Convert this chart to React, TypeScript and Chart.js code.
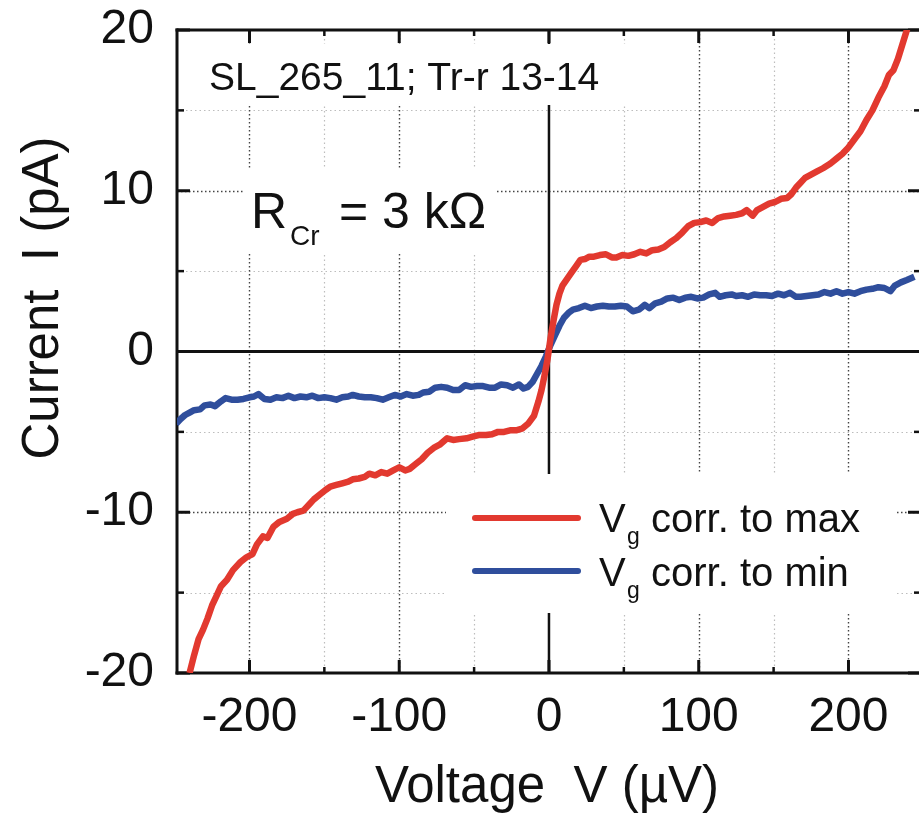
import React, { useEffect, useRef } from 'react';
import { Chart, registerables } from 'chart.js';

Chart.register(...registerables);

const FONT = "'Liberation Sans', Arial, Helvetica, sans-serif";

const xTickLabels = [-200, -100, 0, 100, 200];
const yTickLabels = [-20, -10, 0, 10, 20];
const xMinorTicks = [-150, -50, 50, 150];
const yMinorTicks = [-15, -5, 5, 15];

const xTitle = 'Voltage  V (µV)';
const yTitle = 'Current  I (pA)';
const sampleLabel = 'SL_265_11; Tr-r 13-14';
const seriesLabels = ['corr. to max', 'corr. to min'];

const redV = [-240, -237, -234, -231, -228, -225, -222, -219, -215, -211, -206, -202, -198, -195, -191, -188, -184, -180, -175, -171, -168, -164, -160, -157, -153, -149, -146, -142, -138, -134, -131, -127, -123, -120, -116, -112, -108, -104, -100, -96, -93, -89, -85, -81, -77, -73, -68, -64, -60, -55, -51, -47, -42, -38, -34, -30, -26, -22, -18, -14, -10, -7, -5, -3, -1, 1, 3, 5, 7, 9, 12, 15, 18, 21, 24, 27, 30, 34, 38, 42, 45, 49, 53, 57, 61, 65, 69, 73, 77, 81, 85, 89, 93, 97, 101, 105, 109, 113, 117, 121, 125, 129, 132, 136, 139, 143, 147, 151, 155, 159, 162, 165, 168, 171, 175, 179, 183, 188, 192, 196, 200, 204, 208, 212, 216, 220, 224, 227, 230, 233, 236, 239, 241];
const redI = [-20.0, -18.9, -17.9, -17.3, -16.6, -15.8, -15.2, -14.6, -14.2, -13.6, -13.1, -12.8, -12.6, -12.0, -11.5, -11.6, -10.9, -10.6, -10.4, -10.1, -10.0, -9.9, -9.5, -9.2, -8.9, -8.6, -8.4, -8.3, -8.2, -8.1, -7.95, -7.9, -7.8, -7.6, -7.7, -7.5, -7.6, -7.4, -7.2, -7.4, -7.3, -7.0, -6.7, -6.3, -6.0, -5.8, -5.4, -5.5, -5.45, -5.4, -5.3, -5.2, -5.2, -5.15, -5.0, -5.0, -4.9, -4.9, -4.8, -4.5, -4.0, -3.1, -2.4, -1.5, -0.5, 0.8, 1.9, 2.9, 3.6, 4.1, 4.5, 4.9, 5.3, 5.7, 5.75, 5.9, 5.9, 6.0, 6.05, 5.85, 5.85, 6.0, 5.95, 6.05, 6.2, 6.1, 6.3, 6.35, 6.5, 6.8, 7.05, 7.4, 7.8, 8.0, 8.05, 8.15, 8.0, 8.3, 8.4, 8.45, 8.5, 8.6, 8.8, 8.45, 8.8, 9.0, 9.2, 9.3, 9.5, 9.55, 9.8, 10.2, 10.5, 10.8, 11.0, 11.2, 11.4, 11.7, 12.0, 12.3, 12.7, 13.2, 13.7, 14.4, 15.0, 15.8, 16.5, 17.2, 17.5, 18.2, 19.1, 20.0, 20.6];

const blueV = [-249, -246, -243, -240, -237, -233, -230, -226, -223, -219, -216, -212, -208, -204, -200, -197, -194, -190, -186, -182, -178, -174, -170, -166, -162, -158, -154, -150, -146, -142, -138, -134, -131, -127, -123, -119, -115, -111, -107, -103, -99, -95, -91, -87, -84, -80, -76, -72, -68, -64, -60, -56, -52, -48, -44, -40, -36, -32, -28, -24, -20, -17, -14, -11, -8, -5, -2, 1, 4, 7, 10, 13, 16, 20, 24, 28, 32, 36, 40, 44, 48, 52, 56, 60, 64, 67, 71, 75, 79, 83, 87, 91, 95, 99, 103, 107, 111, 114, 118, 122, 125, 129, 133, 137, 141, 145, 149, 153, 157, 161, 165, 168, 172, 176, 180, 184, 188, 192, 196, 200, 204, 208, 212, 216, 220, 224, 228, 231, 235, 239, 244];
const blueI = [-4.5, -4.2, -3.95, -3.8, -3.65, -3.6, -3.35, -3.3, -3.4, -3.1, -2.9, -3.0, -3.0, -2.95, -2.85, -2.8, -2.65, -2.95, -3.0, -2.85, -2.9, -2.75, -2.9, -2.8, -2.85, -2.75, -2.9, -2.85, -2.9, -3.0, -2.85, -2.8, -2.7, -2.8, -2.85, -2.85, -2.9, -3.0, -2.85, -2.7, -2.8, -2.65, -2.75, -2.7, -2.55, -2.5, -2.25, -2.2, -2.25, -2.4, -2.4, -2.1, -2.2, -2.15, -2.15, -2.25, -2.25, -2.05, -2.1, -2.25, -2.05, -2.3, -2.2, -1.9, -1.4, -0.9, -0.3, 0.4, 1.0, 1.6, 2.1, 2.4, 2.6, 2.7, 2.85, 2.7, 2.8, 2.85, 2.8, 2.8, 2.85, 2.8, 2.5, 2.6, 2.9, 2.7, 3.0, 3.1, 3.3, 3.35, 3.2, 3.35, 3.4, 3.3, 3.35, 3.55, 3.65, 3.4, 3.5, 3.55, 3.45, 3.5, 3.4, 3.55, 3.5, 3.5, 3.45, 3.6, 3.5, 3.65, 3.4, 3.4, 3.45, 3.5, 3.55, 3.7, 3.6, 3.75, 3.6, 3.7, 3.6, 3.75, 3.85, 3.9, 4.0, 3.95, 3.75, 4.1, 4.3, 4.45, 4.65];

const RED = '#E2392F';
const BLUE = '#2F4E9C';
const INK = '#111111';

const toPoints = (xs: number[], ys: number[]) => xs.map((v, i) => ({ x: v, y: ys[i] }));

const decorPlugin = {
  id: 'decor',
  beforeDatasetsDraw(chart: any) {
    const { ctx, chartArea: a, scales } = chart;
    const xs = scales.x;
    const ys = scales.y;
    ctx.save();

    const line = (x1: number, y1: number, x2: number, y2: number, color: string, w: number, dash: number[] = []) => {
      ctx.beginPath();
      ctx.setLineDash(dash);
      ctx.strokeStyle = color;
      ctx.lineWidth = w;
      ctx.moveTo(x1, y1);
      ctx.lineTo(x2, y2);
      ctx.stroke();
      ctx.setLineDash([]);
    };

    // grid lines
    xMinorTicks.forEach((v) => {
      const p = Math.round(xs.getPixelForValue(v)) + 0.5;
      line(p, a.top, p, a.bottom, '#bdbdbd', 1.2, [1.5, 3]);
    });
    yMinorTicks.forEach((v) => {
      const p = Math.round(ys.getPixelForValue(v)) + 0.5;
      line(a.left, p, a.right, p, '#bdbdbd', 1.2, [1.5, 3]);
    });
    xTickLabels.filter((v) => v !== 0).forEach((v) => {
      const p = Math.round(xs.getPixelForValue(v)) + 0.5;
      line(p, a.top, p, a.bottom, '#444444', 1.4, [1.5, 2.5]);
    });
    yTickLabels.filter((v) => v !== 0 && Math.abs(v) !== 20).forEach((v) => {
      const p = Math.round(ys.getPixelForValue(v)) + 0.5;
      line(a.left, p, a.right, p, '#444444', 1.4, [1.5, 2.5]);
    });

    // zero lines
    const x0 = xs.getPixelForValue(0);
    const y0 = ys.getPixelForValue(0);
    line(a.left, y0, a.right, y0, INK, 3);
    line(x0, a.top, x0, a.bottom, INK, 2.5);

    // white boxes behind annotations and legend
    ctx.fillStyle = '#ffffff';
    ctx.fillRect(179, 44, 461, 61);
    ctx.fillRect(245, 168, 252, 84);
    ctx.fillRect(446, 474, 450, 139);

    // tick marks (inward) on all four sides
    const tickW = 3;
    xTickLabels.forEach((v) => {
      const p = xs.getPixelForValue(v);
      line(p, a.bottom, p, a.bottom - 13, INK, tickW);
      line(p, a.top, p, a.top + 13, INK, tickW);
    });
    xMinorTicks.forEach((v) => {
      const p = xs.getPixelForValue(v);
      line(p, a.bottom, p, a.bottom - 6, INK, 2.5);
      line(p, a.top, p, a.top + 6, INK, 2.5);
    });
    yTickLabels.forEach((v) => {
      const p = ys.getPixelForValue(v);
      line(a.left, p, a.left + 13, p, INK, tickW);
      line(a.right + 2, p, a.right - 11, p, INK, tickW);
    });
    yMinorTicks.forEach((v) => {
      const p = ys.getPixelForValue(v);
      line(a.left, p, a.left + 7, p, INK, 2.5);
      line(a.right + 2, p, a.right - 5, p, INK, 2.5);
    });

    // axes frame: left, bottom, top
    line(a.left, a.top - 1.5, a.left, a.bottom + 1.5, INK, 3);
    line(a.left - 1.5, a.bottom, a.right, a.bottom, INK, 3);
    line(a.left - 1.5, a.top, a.right, a.top, INK, 3);

    // texts
    ctx.fillStyle = INK;
    ctx.textBaseline = 'alphabetic';
    ctx.textAlign = 'left';

    ctx.font = `39px ${FONT}`;
    ctx.fillText(sampleLabel, 209, 90);

    ctx.font = `50px ${FONT}`;
    ctx.fillText('R', 251, 228);
    ctx.font = `28px ${FONT}`;
    ctx.fillText('Cr', 290, 245);
    ctx.font = `50px ${FONT}`;
    ctx.fillText('= 3 kΩ', 339, 228);

    // legend
    const legendRows = [
      { color: RED, lineY: 518, base: 532, label: seriesLabels[0] },
      { color: BLUE, lineY: 571, base: 586, label: seriesLabels[1] },
    ];
    legendRows.forEach((r) => {
      ctx.beginPath();
      ctx.strokeStyle = r.color;
      ctx.lineWidth = 6;
      ctx.lineCap = 'round';
      ctx.moveTo(475, r.lineY);
      ctx.lineTo(578, r.lineY);
      ctx.stroke();
      ctx.lineCap = 'butt';
      ctx.fillStyle = INK;
      ctx.font = `40px ${FONT}`;
      ctx.fillText('V', 599, r.base);
      ctx.font = `23px ${FONT}`;
      ctx.fillText('g', 627, r.base + 12);
      ctx.font = `40px ${FONT}`;
      ctx.fillText(r.label, 651, r.base);
    });

    // axis titles
    ctx.font = `51px ${FONT}`;
    ctx.textAlign = 'center';
    ctx.fillText(xTitle, (a.left + a.right) / 2 - 1, 802);
    ctx.save();
    ctx.translate(58, 298);
    ctx.rotate(-Math.PI / 2);
    ctx.fillText(yTitle, 0, 0);
    ctx.restore();

    ctx.restore();
  },
};

export default function App() {
  const ref = useRef<HTMLCanvasElement | null>(null);

  useEffect(() => {
    document.body.style.margin = '0';
    const canvas = ref.current;
    if (!canvas) return;
    const chart = new Chart(canvas, {
      type: 'line',
      data: {
        datasets: [
          {
            label: 'Vg ' + seriesLabels[0],
            data: toPoints(redV, redI),
            borderColor: RED,
            backgroundColor: RED,
            borderWidth: 6.5,
            pointRadius: 0,
            tension: 0,
            borderJoinStyle: 'round',
          },
          {
            label: 'Vg ' + seriesLabels[1],
            data: toPoints(blueV, blueI),
            borderColor: BLUE,
            backgroundColor: BLUE,
            borderWidth: 6.5,
            pointRadius: 0,
            tension: 0,
            borderJoinStyle: 'round',
          },
        ],
      },
      options: {
        responsive: false,
        animation: false,
        devicePixelRatio: 1,
        layout: { padding: { top: 30, left: 0, right: 0, bottom: 0 } },
        plugins: { legend: { display: false }, tooltip: { enabled: false }, title: { display: false } },
        scales: {
          x: {
            type: 'linear',
            min: -248.4,
            max: 247.1,
            grid: { display: false },
            border: { display: false },
            afterBuildTicks: (s: any) => {
              s.ticks = xTickLabels.map((v) => ({ value: v }));
            },
            afterFit: (s: any) => {
              s.height = 140;
              s.paddingLeft = 0;
              s.paddingRight = 0;
            },
            ticks: {
              autoSkip: false,
              maxRotation: 0,
              padding: 8,
              color: INK,
              font: { family: FONT, size: 48 },
              callback: (v: any) => String(v),
            },
          },
          y: {
            type: 'linear',
            min: -20,
            max: 20,
            grid: { display: false },
            border: { display: false },
            afterBuildTicks: (s: any) => {
              s.ticks = yTickLabels.map((v) => ({ value: v }));
            },
            afterFit: (s: any) => {
              s.width = 177;
              s.paddingTop = 0;
              s.paddingBottom = 0;
            },
            ticks: {
              autoSkip: false,
              padding: 15,
              color: INK,
              font: { family: FONT, size: 48 },
              callback: (v: any) => String(v),
            },
          },
        },
      },
      plugins: [decorPlugin],
    } as any);
    return () => chart.destroy();
  }, []);

  return (
    <canvas
      ref={ref}
      width={919}
      height={813}
      style={{ position: 'fixed', left: 0, top: 0, width: 919, height: 813 }}
    />
  );
}
